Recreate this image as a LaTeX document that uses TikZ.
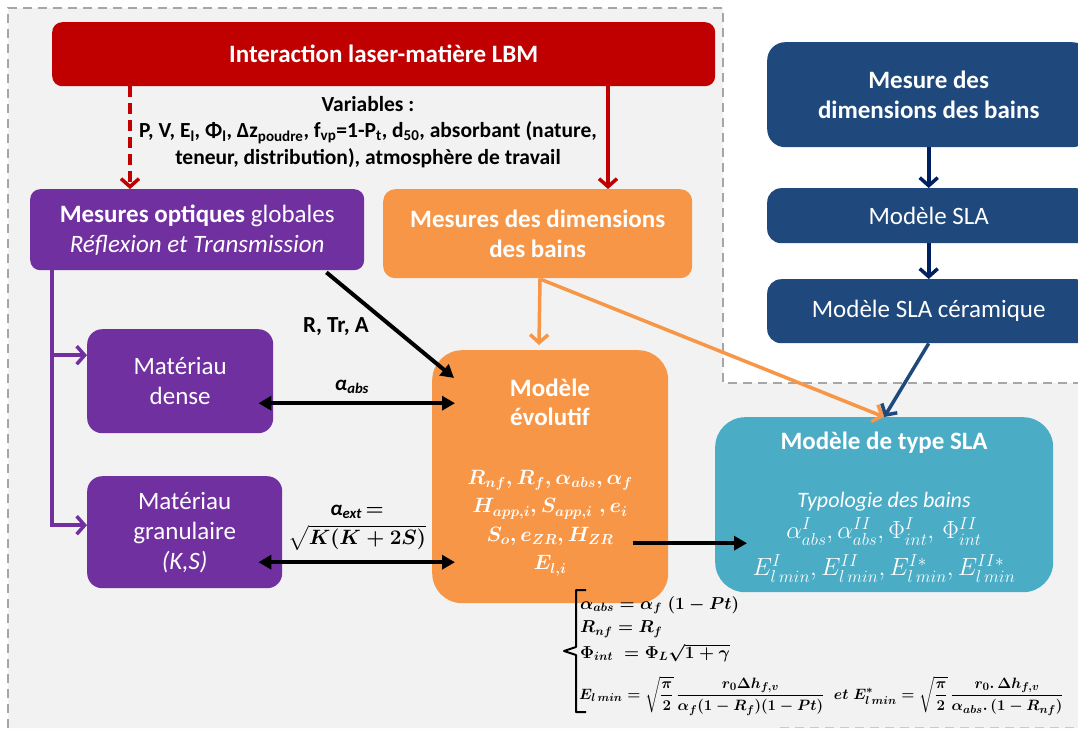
\documentclass[tikz,border=0pt]{standalone}
\usepackage{fontspec}
\setmainfont{Carlito}
\usepackage{amsmath}
\usepackage{bm}
\usepackage{graphicx}
\usetikzlibrary{arrows.meta,calc}
\definecolor{cred}{HTML}{C00000}
\definecolor{cpurple}{HTML}{7030A0}
\definecolor{corange}{HTML}{F79646}
\definecolor{cteal}{HTML}{4BACC6}
\definecolor{cblue}{HTML}{1F497D}
\definecolor{cnavy}{HTML}{002060}
\definecolor{bggray}{HTML}{F2F2F2}
\definecolor{dashgray}{HTML}{A6A6A6}
\begin{document}
\begin{tikzpicture}[x=1pt,y=-1pt,
  box/.style={anchor=north west, text=white, align=center, inner sep=0pt},
  big/.style={font=\fontsize{25}{30}\selectfont},
  bigb/.style={font=\bfseries\fontsize{25}{30}\selectfont},
  barb/.style={-{Straight Barb[length=8pt,width=18pt,line width=3.5pt]}},
  blk/.style={line width=4pt, black},
  blktip/.style={-{Triangle[length=13pt,width=14pt]}},
  dbltip/.style={{Triangle[length=13pt,width=14pt]}-{Triangle[length=13pt,width=14pt]}},
]
\useasboundingbox (0,0) rectangle (1078,728);
\fill[white] (0,0) rectangle (1078,728);
\fill[bggray] (8,8) -- (723,8) -- (723,383) -- (1078,383) -- (1078,728) -- (8,728) -- cycle;
\draw[dashgray, line width=2pt, dash pattern=on 9pt off 6pt] (8,728) -- (8,8) -- (723,8) -- (723,383) -- (1078,383);
\draw[dashgray!60, line width=1.5pt, dash pattern=on 9pt off 6pt] (780,727.5) -- (1078,727.5);

% nodes
\node[box, bigb, fill=cred, minimum width=663pt, minimum height=64pt, rounded corners=10pt] (red) at (52,22) {Interaction laser-matière LBM};
\node[align=center, font=\bfseries\fontsize{21.5}{26.5}\selectfont] (vars) at (368,132)
 {Variables :\\
  P, V, E\textsubscript{l}, Φ\textsubscript{l}, Δz\textsubscript{poudre}, f\textsubscript{vp}=1-P\textsubscript{t}, d\textsubscript{50}, absorbant (nature,\\
  teneur, distribution), atmosphère de travail};

\node[box, big, fill=cpurple, minimum width=334pt, minimum height=81pt, rounded corners=10pt] (mo) at (30,189)
 {\textbf{Mesures optiques} globales\\ \textit{Réflexion et Transmission}};
\node[box, bigb, fill=corange, minimum width=309pt, minimum height=89pt, rounded corners=12pt] (dims) at (383,189)
 {Mesures des dimensions\\des bains};
\node[box, big, fill=cpurple, minimum width=186pt, minimum height=104pt, rounded corners=15pt] (dense) at (87,329)
 {Matériau\\dense};
\node[box, big, fill=cpurple, minimum width=195pt, minimum height=112pt, rounded corners=15pt] (gran) at (87,476)
 {Matériau\\granulaire\\\textit{(K,S)}};
\node[box, fill=corange, minimum width=236pt, minimum height=253pt, rounded corners=30pt] (evo) at (432,350) {};
\node[text=white, align=center, font=\bfseries\fontsize{25}{29}\selectfont] (evot) at (550,402) {Modèle\\évolutif};
\node[text=white, align=center, font=\fontsize{21}{28.5}\selectfont\boldmath] (evom) at (550,523)
 {$R_{nf},R_f,\alpha_{abs},\alpha_f$\\ $H_{app,i},S_{app,i}\;,e_i$\\ $S_o,e_{ZR},H_{ZR}$\\ $E_{l,i}$};

\node[box, fill=cteal, minimum width=338pt, minimum height=175pt, rounded corners=30pt] (sla) at (715,417) {};
\node[text=white, font=\bfseries\fontsize{25}{29}\selectfont] (slat) at (884,443) {Modèle de type SLA};
\node[text=white, font=\itshape\fontsize{22}{26}\selectfont] (slaty) at (884,502) {Typologie des bains};
\node[text=white, font=\fontsize{24}{28}\selectfont, inner sep=0pt] (slam1) at (884,532)
 {$\alpha_{abs}^{I},\alpha_{abs}^{II},\Phi_{int}^{I},\,\Phi_{int}^{II}$};
\node[text=white, font=\fontsize{24}{28}\selectfont, inner sep=0pt] (slam2) at (884,569)
 {$E_{l\,min}^{I},E_{l\,min}^{II},E_{l\,min}^{I*},E_{l\,min}^{II*}$};

\node[box, bigb, fill=cblue, minimum width=323pt, minimum height=105pt, rounded corners=18pt] (b1) at (767,42)
 {Mesure des\\dimensions des bains};
\node[box, big, fill=cblue, minimum width=323pt, minimum height=55pt, rounded corners=14pt] (b2) at (767,188)
 {Modèle SLA};
\node[box, big, fill=cblue, minimum width=323pt, minimum height=64pt, rounded corners=14pt] (b3) at (767,279)
 {Modèle SLA céramique};

% labels
\node[font=\bfseries\fontsize{23}{26}\selectfont] (rta) at (336,327) {R, Tr, A};
\node[font=\bfseries\itshape\fontsize{21}{25}\selectfont] (aabs) at (352,387) {α\textsubscript{abs}};
\node[align=center, font=\bfseries\fontsize{21}{29}\selectfont\boldmath] (aext) at (357,528)
 {\textit{α}\textsubscript{\textit{ext}}\,$=$\\ $\sqrt{K(K+2S)}$};

% connectors
\draw[cred, line width=4pt, dash pattern=on 11pt off 6pt, barb] ($(red.south west)+(78,0)$) -- ($(mo.north west)+(100,0)$);
\draw[cred, line width=3.5pt, barb] ($(red.south west)+(556,0)$) -- ($(dims.north west)+(225,0)$);
\draw[cpurple, line width=3.5pt, barb] ($(mo.south west)+(22,0)$) |- ($(dense.west)+(0,-26)$);
\draw[cpurple, line width=3.5pt, barb] ($(mo.south west)+(22,0)$) |- ($(gran.west)+(0,-7)$);
\draw[blk, blktip] ($(mo.south east)+(-38,2)$) -- ($(evo.north west)+(22,28)$);
\draw[blk, dbltip] ($(dense.east)+(-15,22)$) -- ($(dense.east -| evo.west)+(23,22)$);
\draw[blk, dbltip] ($(gran.east)+(-24,30)$) -- ($(gran.east -| evo.west)+(23,30)$);
\draw[corange, line width=3.5pt, barb] ($(dims.south west)+(157,0)$) -- ($(evo.north west)+(107,-5)$);
\draw[corange, line width=3.5pt, barb] ($(dims.south west)+(158,1)$) -- (sla.north);
\draw[cnavy, line width=4pt, barb] (b1.south -| b2.north) -- (b2.north);
\draw[cnavy, line width=4pt, barb] (b2.south) -- (b3.north);
\draw[cblue, line width=3.5pt, barb] (b3.south) -- (sla.north);
\draw[blk, blktip] ($(evo.east)+(-35,66.5)$) -- ($(sla.west)+(32,38.5)$);

% system of equations
\draw[black, line width=2pt, line join=round] (586,590) -- (576,590) -- (576,647) -- (564,651) -- (576,655) -- (576,712) -- (586,712);
\node[anchor=west, font=\fontsize{18}{22}\selectfont\boldmath, inner sep=0pt] (eq1) at (580,605) {$\alpha_{abs}=\alpha_f\;(1-Pt)$};
\node[anchor=west, font=\fontsize{18}{22}\selectfont\boldmath, inner sep=0pt] (eq2) at (580,629) {$R_{nf}=R_f$};
\node[anchor=west, font=\fontsize{18}{22}\selectfont\boldmath, inner sep=0pt] (eq3) at (580,653) {$\Phi_{int}\;=\Phi_L\sqrt{1+\gamma}$};
\node[anchor=west, font=\fontsize{15}{18}\selectfont\boldmath, inner sep=0pt] (eq4) at (579,696)
 {\scalebox{1.04}{$E_{l\,min}=\sqrt{\dfrac{\pi}{2}}\,\dfrac{r_0\Delta h_{f,v}}{\alpha_f(1-R_f)(1-Pt)}\;\;et\;E^{*}_{l\,min}=\sqrt{\dfrac{\pi}{2}}\,\dfrac{r_0.\,\Delta h_{f,v}}{\alpha_{abs}.\,(1-R_{nf})}$}};
\end{tikzpicture}
\end{document}
